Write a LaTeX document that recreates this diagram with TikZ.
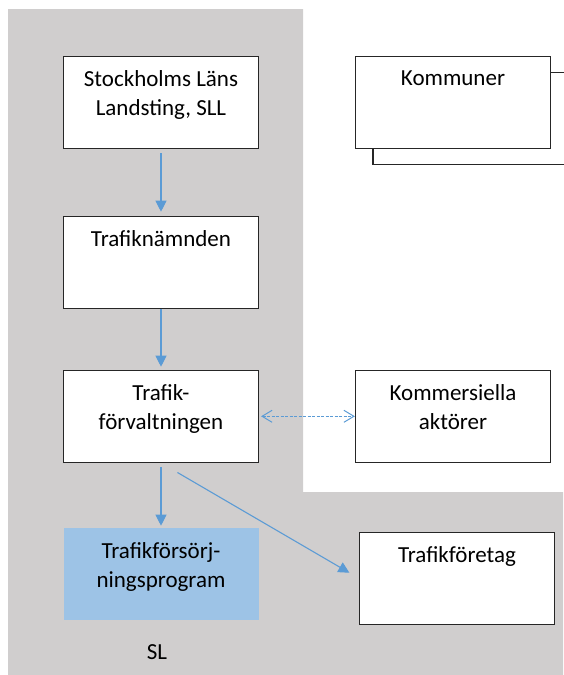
\documentclass[tikz,border=0pt]{standalone}
\usepackage{fontspec}
\setmainfont{Carlito}
\usetikzlibrary{positioning,arrows.meta,shadows}
\definecolor{slgray}{RGB}{208,206,206}
\definecolor{progblue}{RGB}{157,195,230}
\definecolor{arrowblue}{RGB}{91,155,213}
\definecolor{boxline}{RGB}{38,38,38}

\tikzset{
  box/.style={draw=boxline, line width=1.2pt, fill=white, minimum width=195pt, minimum height=92pt},
  boxtext/.style={anchor=north, align=center, inner sep=0pt, yshift=-15pt},
  flow/.style={draw=arrowblue, line width=1.1pt, -{Triangle[length=11pt,width=11pt]}},
  exchange/.style={draw=arrowblue, line width=1pt, dash pattern=on 3pt off 1.5pt,
    {Straight Barb[length=10pt,width=12pt]}-{Straight Barb[length=10pt,width=12pt]}}
}

\begin{document}
\begin{tikzpicture}[x=1pt, y=-1pt, node distance=1.5cm, font=\fontsize{23}{29}\selectfont]
    \useasboundingbox (0,0) rectangle (563,675);

    % SL area
    \fill[slgray] (8,9) -- (303,9) -- (303,492) -- (563,492) -- (563,675) -- (8,675) -- cycle;

    \node[box, label={[boxtext]north:{Stockholms Läns\\Landsting, SLL}}] (sll) at (161,102.3) {};
    \node[box, below of=sll, node distance=160pt, label={[boxtext]north:Trafiknämnden}] (namnd) {};
    \node[box, below of=namnd, node distance=154pt, label={[boxtext]north:{Trafik-\\förvaltningen}}] (forv) {};
    \node[box, draw=none, fill=progblue, below of=forv, node distance=158pt, label={[boxtext]north:{Trafikförsörj-\\ningsprogram}}] (prog) {};

    \node[box, right of=sll, node distance=292pt, copy shadow={shadow xshift=17.5pt, shadow yshift=-16pt, fill=white, draw=boxline}, label={[boxtext]north:Kommuner}] (kommuner) {};
    \node[box, right of=forv, node distance=292pt, label={[boxtext]north:{Kommersiella\\aktörer}}] (kommers) {};
    \node[box, right of=prog, node distance=296pt, yshift=-4pt, label={[boxtext]north:Trafikföretag}] (foretag) {};

    \node (sl) at (157,652) {SL};

    \draw[flow, shorten <=4.5pt, shorten >=4pt] (sll) -- (namnd);
    \draw[flow, shorten >=3pt] (namnd) -- (forv);
    \draw[flow, shorten <=4.5pt, shorten >=2pt] (forv) -- (prog);
    \draw[flow, shorten <=19pt, shorten >=11pt] (forv.south) -- (foretag.west);
    \draw[exchange, shorten <=2pt] (forv) -- (kommers);
\end{tikzpicture}
\end{document}
